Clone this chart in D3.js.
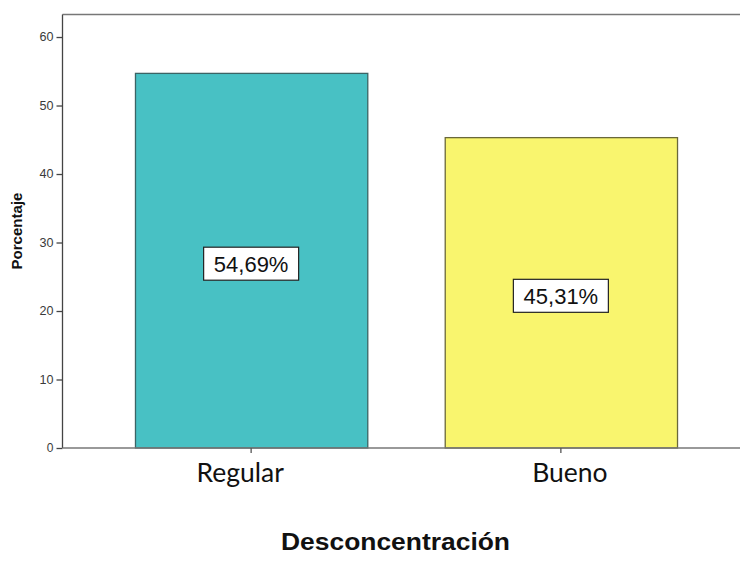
<!DOCTYPE html>
<html>
<head>
<meta charset="utf-8">
<script src="https://cdn.jsdelivr.net/npm/d3@7"></script>
<style>
  html, body { margin: 0; padding: 0; background: #fff; }
  svg { display: block; }
</style>
</head>
<body>
<svg id="chart" width="740" height="562"></svg>
<script>
// Data
const categories = ["Regular", "Bueno"];
const values = [54.69, 45.31];
const valueLabels = ["54,69%", "45,31%"];
const yTicks = [0, 10, 20, 30, 40, 50, 60];
const fills = ["#48c1c4", "#f9f56e"];
const strokes = ["#3b6465", "#6a683a"];

const svg = d3.select("#chart");
const W = 740, H = 562;

const y = d3.scaleLinear().domain([0, 63.36]).range([448, 14]);
const x = d3.scaleBand()
  .domain(categories)
  .range([62.5, 749.5])
  .paddingInner(0.25)
  .paddingOuter(0.234);

// Plot frame: top line
svg.append("line")
  .attr("x1", 62.5).attr("x2", W)
  .attr("y1", 14.5).attr("y2", 14.5)
  .attr("stroke", "#777").attr("stroke-width", 1.5);

// Bars
svg.append("g").selectAll("rect")
  .data(categories)
  .join("rect")
  .attr("x", d => x(d) + 0.5)
  .attr("y", (d, i) => y(values[i]))
  .attr("width", x.bandwidth())
  .attr("height", (d, i) => y(0) - y(values[i]))
  .attr("fill", (d, i) => fills[i])
  .attr("stroke", (d, i) => strokes[i])
  .attr("stroke-width", 1.3);

// Y axis
const yAxis = d3.axisLeft(y)
  .tickValues(yTicks)
  .tickSize(6)
  .tickPadding(3)
  .tickFormat(d3.format("d"));
const gy = svg.append("g")
  .attr("transform", "translate(62.5,0)")
  .call(yAxis);
gy.attr("font-size", null);
gy.select(".domain").attr("stroke", "#444").attr("stroke-width", 1.3)
  .attr("d", `M0,${y(0)}V14.5`);
gy.selectAll(".tick line").attr("stroke", "#444").attr("stroke-width", 1.3);
gy.selectAll(".tick text")
  .attr("fill", "#3a3a3a")
  .attr("textLength", d => d === 0 ? null : 14)
  .attr("lengthAdjust", "spacingAndGlyphs")
  .style("font-family", "Arial, 'Liberation Sans', sans-serif")
  .style("font-size", "12px");

// X axis
const xAxis = d3.axisBottom(x).tickSize(5).tickFormat("");
const gx = svg.append("g")
  .attr("transform", `translate(0,${y(0)})`)
  .call(xAxis);
gx.select(".domain").attr("stroke", "#777").attr("stroke-width", 1.3)
  .attr("d", `M62.5,0H${W}`);
gx.selectAll(".tick line").attr("stroke", "#555").attr("stroke-width", 1.3);

// Category labels
const labelShift = [-11, 9];
svg.append("g").selectAll("text")
  .data(categories)
  .join("text")
  .attr("x", (d, i) => x(d) + x.bandwidth() / 2 + labelShift[i])
  .attr("y", 482)
  .attr("text-anchor", "middle")
  .style("font-family", "Lato, 'Open Sans', sans-serif")
  .style("font-size", "26.5px")
  .attr("fill", "#111")
  .text(d => d);

// Value labels in boxes
const lab = svg.append("g").selectAll("g")
  .data(categories)
  .join("g")
  .attr("transform", (d, i) =>
    `translate(${x(d) + x.bandwidth() / 2},${(y(values[i]) + y(0)) / 2 + 3})`);
lab.append("rect")
  .attr("x", -47.5).attr("y", -16.5)
  .attr("width", 95).attr("height", 33)
  .attr("fill", "#fff")
  .attr("stroke", "#222").attr("stroke-width", 1.2);
lab.append("text")
  .attr("text-anchor", "middle")
  .attr("y", 8)
  .style("font-family", "Arial, 'Liberation Sans', sans-serif")
  .style("font-size", "22px")
  .attr("fill", "#111")
  .text((d, i) => valueLabels[i]);

// Axis titles
svg.append("text")
  .attr("transform", "translate(22,231) rotate(-90)")
  .attr("text-anchor", "middle")
  .attr("textLength", 77)
  .attr("lengthAdjust", "spacingAndGlyphs")
  .style("font-family", "Arial, 'Liberation Sans', sans-serif")
  .style("font-weight", "bold")
  .style("font-size", "14px")
  .attr("fill", "#111")
  .text("Porcentaje");

svg.append("text")
  .attr("x", 395.5)
  .attr("y", 550)
  .attr("text-anchor", "middle")
  .attr("textLength", 229)
  .attr("lengthAdjust", "spacingAndGlyphs")
  .style("font-family", "Arial, 'Liberation Sans', sans-serif")
  .style("font-weight", "bold")
  .style("font-size", "23px")
  .attr("fill", "#111")
  .text("Desconcentración");
</script>
</body>
</html>
